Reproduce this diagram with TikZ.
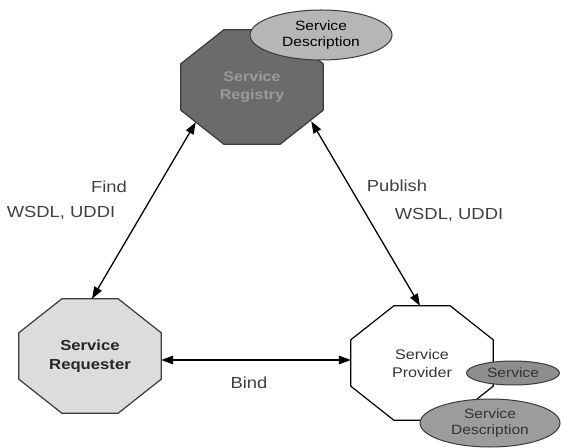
\documentclass[tikz,border=0pt]{standalone}
\usepackage{fontspec}
\setmainfont[FakeStretch=1.15]{Liberation Sans}
\usetikzlibrary{arrows.meta,calc,backgrounds,shapes.geometric}

\definecolor{registryfill}{HTML}{6B6B6B}
\definecolor{registrytext}{HTML}{9A9A9A}
\definecolor{requesterfill}{HTML}{DCDCDC}
\definecolor{descfill}{HTML}{B6B6B6}
\definecolor{servicefill}{HTML}{8E8E8E}
\definecolor{lowdescfill}{HTML}{9C9C9C}
\definecolor{edgegray}{HTML}{3A3A3A}

% octagonal frame behind a rectangular node (chamfer 43 x 34)
\newcommand\octoframe[3]{%
  \begin{scope}[on background layer]
    \path[fill=#2, draw=#3, line width=1.2pt, line join=round]
      ([xshift=43pt]#1.north west) -- ([xshift=-43pt]#1.north east)
      -- ([yshift=-34pt]#1.north east) -- ([yshift=34pt]#1.south east)
      -- ([xshift=-43pt]#1.south east) -- ([xshift=43pt]#1.south west)
      -- ([yshift=34pt]#1.south west) -- ([yshift=-34pt]#1.north west)
      -- cycle;
  \end{scope}}

\tikzset{
  octobox/.style={minimum width=142pt, minimum height=114pt, inner sep=0pt,
    align=center, font=\fontsize{14}{18}\selectfont},
  blob/.style={ellipse, draw=edgegray, line width=1pt, inner sep=0pt,
    align=center, font=\fontsize{13.5}{16}\selectfont},
  edgelabel/.style={font=\fontsize{16}{18}\selectfont, text=black!75, inner sep=0pt},
  link/.style={line width=1.3pt, {Triangle[length=12pt,width=8.5pt]}-{Triangle[length=12pt,width=8.5pt]}}
}

\begin{document}
\begin{tikzpicture}[x=1pt, y=1pt]
  \useasboundingbox (0,0) rectangle (561,447);
  \begin{scope}[on background layer]
    \fill[white] (0,0) rectangle (561,447);
  \end{scope}

  % the three roles
  \node[octobox, text=registrytext, font=\fontsize{14}{18}\selectfont\bfseries]
    (reg) at (252,360) {Service\\Registry};
  \octoframe{reg}{registryfill}{edgegray}

  \node[octobox, font=\fontsize{14.5}{19}\selectfont\bfseries, text=black!85]
    (req) at (90,91) {Service\\Requester};
  \octoframe{req}{requesterfill}{edgegray}

  \node[octobox, text=black!80, text depth=0pt] (prov) at (422,84) {\\[-8pt]Service\\Provider};
  \octoframe{prov}{white}{black}

  % descriptions and service
  \node[blob, fill=descfill, minimum width=142pt, minimum height=50pt]
    (topdesc) at (321,412) {Service\\Description};
  \node[blob, fill=servicefill, minimum width=93pt, minimum height=24pt, text=black!80]
    (svc) at (513,74) {Service};
  \node[blob, fill=lowdescfill, minimum width=140pt, minimum height=48pt, text=black!80]
    (botdesc) at (490,24) {Service\\Description};

  % interactions
  \draw[link] ($(reg.south west)+(15,22)$) -- ($(req.north)+(2,0)$);
  \draw[link] ($(reg.south east)+(-12,23)$) -- ($(prov.north)+(-2,0)$);
  \draw[link] ($(req.east)+(0,-4)$) -- ($(prov.west)+(0,3)$);

  \node[edgelabel] (find) at (109,260) {Find};
  \node[edgelabel] (findproto) at (61,234) {WSDL, UDDI};
  \node[edgelabel] (pub) at (397,261) {Publish};
  \node[edgelabel] (pubproto) at (449,232) {WSDL, UDDI};
  \node[edgelabel] (bind) at (249,64) {Bind};
\end{tikzpicture}
\end{document}
